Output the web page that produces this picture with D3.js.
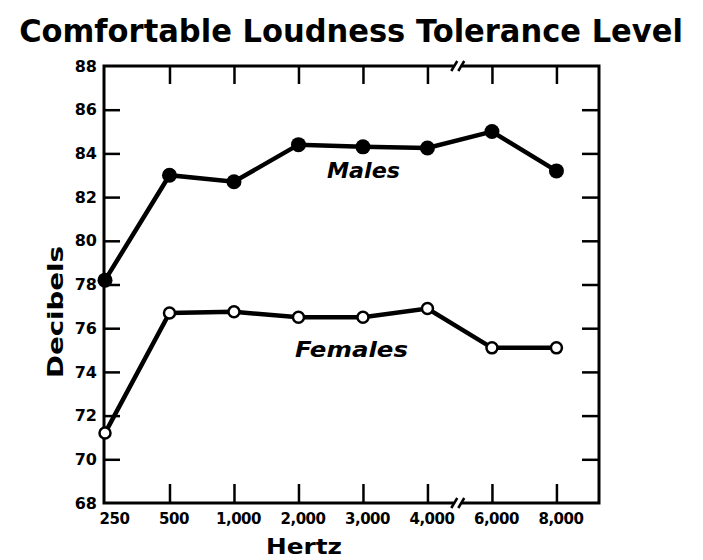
<!DOCTYPE html>
<html>
<head>
<meta charset="utf-8">
<script src="https://cdn.jsdelivr.net/npm/d3@7"></script>
<style>
  body { margin: 0; background: #fff; }
  text { font-family: "DejaVu Sans", sans-serif; font-weight: bold; fill: #000; }
</style>
</head>
<body>
<div id="chart"></div>
<script>
const hertz = ["250", "500", "1,000", "2,000", "3,000", "4,000", "6,000", "8,000"];
const males = [78.2, 83.0, 82.7, 84.4, 84.3, 84.25, 85.0, 83.2];
const females = [71.2, 76.7, 76.75, 76.5, 76.5, 76.9, 75.1, 75.1];
const yTicks = [68, 70, 72, 74, 76, 78, 80, 82, 84, 86, 88];
const breakAt = 5.47; // axis break between 4,000 and 6,000

const width = 703, height = 560;
const plotLeft = 104, plotRight = 599, plotTop = 66, plotBottom = 503;

const svg = d3.select("#chart").append("svg")
    .attr("width", width)
    .attr("height", height);

const x = d3.scaleLinear().domain([0, 7.66]).range([plotLeft + 1, plotRight]);
const y = d3.scaleLinear().domain([68, 88]).range([plotBottom, plotTop]);

// title, squeezed horizontally to fit the width of the original
const title = svg.append("text")
    .attr("text-anchor", "middle")
    .attr("font-size", "32px")
    .text("Comfortable Loudness Tolerance Level");
const tw = title.node().getComputedTextLength();
title.attr("transform", "translate(351,42) scale(" + Math.min(1, 664 / tw) + ",1)");

// frame
svg.append("rect")
    .attr("x", plotLeft).attr("y", plotTop)
    .attr("width", plotRight - plotLeft).attr("height", plotBottom - plotTop)
    .attr("fill", "none").attr("stroke", "#000").attr("stroke-width", 3);

// left axis (labels + inward ticks)
const yAxis = d3.axisLeft(y).tickValues(yTicks).tickSize(-16).tickPadding(7);
const gy = svg.append("g")
    .attr("transform", "translate(" + plotLeft + ",0)")
    .call(yAxis);
gy.select(".domain").remove();
gy.selectAll(".tick line").attr("stroke-width", 2.5);
gy.selectAll(".tick text").attr("font-size", "16px");
gy.selectAll(".tick").filter(d => d == 68 || d == 88).select("line").remove();

// right axis ticks
const gr = svg.append("g")
    .attr("transform", "translate(" + plotRight + ",0)")
    .call(d3.axisRight(y).tickValues(yTicks.slice(1, -1)).tickSize(-17).tickFormat(""));
gr.select(".domain").remove();
gr.selectAll(".tick line").attr("stroke-width", 2.5);

// bottom axis
const idx = d3.range(hertz.length);
const xAxis = d3.axisBottom(x).tickValues(idx).tickSize(-19).tickPadding(10)
    .tickFormat(i => hertz[i]);
const gx = svg.append("g")
    .attr("transform", "translate(0," + plotBottom + ")")
    .call(xAxis);
gx.select(".domain").remove();
gx.selectAll(".tick line").attr("stroke-width", 2.5);
gx.selectAll(".tick").filter(i => i == 0).select("line").remove();
gx.selectAll(".tick text")
    .attr("font-size", "15px")
    .attr("dx", i => i == 0 ? 9 : 4)
    .attr("letter-spacing", "-0.5px");

// top axis ticks
const gt = svg.append("g")
    .attr("transform", "translate(0," + plotTop + ")")
    .call(d3.axisTop(x).tickValues(idx.slice(1)).tickSize(-18).tickFormat(""));
gt.select(".domain").remove();
gt.selectAll(".tick line").attr("stroke-width", 2.5);

// axis breaks
[plotTop, plotBottom].forEach(yy => {
    const bx = x(breakAt);
    svg.append("rect")
        .attr("x", bx - 4).attr("y", yy - 3)
        .attr("width", 8).attr("height", 6)
        .attr("fill", "#fff");
    [-3.5, 3.5].forEach(off => {
        svg.append("line")
            .attr("x1", bx + off - 3).attr("y1", yy + 5)
            .attr("x2", bx + off + 3).attr("y2", yy - 5)
            .attr("stroke", "#000").attr("stroke-width", 2.5);
    });
});

// lines
const line = d3.line().x((d, i) => x(i)).y(d => y(d));

svg.append("path")
    .datum(males)
    .attr("d", line)
    .attr("fill", "none").attr("stroke", "#000").attr("stroke-width", 4.5);

svg.append("path")
    .datum(females)
    .attr("d", line)
    .attr("fill", "none").attr("stroke", "#000").attr("stroke-width", 4.5);

svg.selectAll(".male")
    .data(males)
    .enter().append("circle")
    .attr("class", "male")
    .attr("cx", (d, i) => x(i))
    .attr("cy", d => y(d))
    .attr("r", 7.5)
    .attr("fill", "#000");

svg.selectAll(".female")
    .data(females)
    .enter().append("circle")
    .attr("class", "female")
    .attr("cx", (d, i) => x(i))
    .attr("cy", d => y(d))
    .attr("r", 5.5)
    .attr("fill", "#fff")
    .attr("stroke", "#000")
    .attr("stroke-width", 2.5);

// series labels
svg.append("text")
    .attr("x", 327).attr("y", 178)
    .attr("font-size", "22px")
    .attr("font-style", "italic")
    .attr("textLength", 73)
    .attr("lengthAdjust", "spacingAndGlyphs")
    .text("Males");

svg.append("text")
    .attr("x", 295).attr("y", 357)
    .attr("font-size", "22px")
    .attr("font-style", "italic")
    .attr("textLength", 113)
    .attr("lengthAdjust", "spacingAndGlyphs")
    .text("Females");

// axis titles
svg.append("text")
    .attr("transform", "translate(63,312) rotate(-90)")
    .attr("text-anchor", "middle")
    .attr("font-size", "22px")
    .attr("textLength", 132)
    .attr("lengthAdjust", "spacingAndGlyphs")
    .text("Decibels");

svg.append("text")
    .attr("x", 304).attr("y", 554)
    .attr("text-anchor", "middle")
    .attr("font-size", "21px")
    .attr("textLength", 76)
    .attr("lengthAdjust", "spacingAndGlyphs")
    .text("Hertz");
</script>
</body>
</html>
